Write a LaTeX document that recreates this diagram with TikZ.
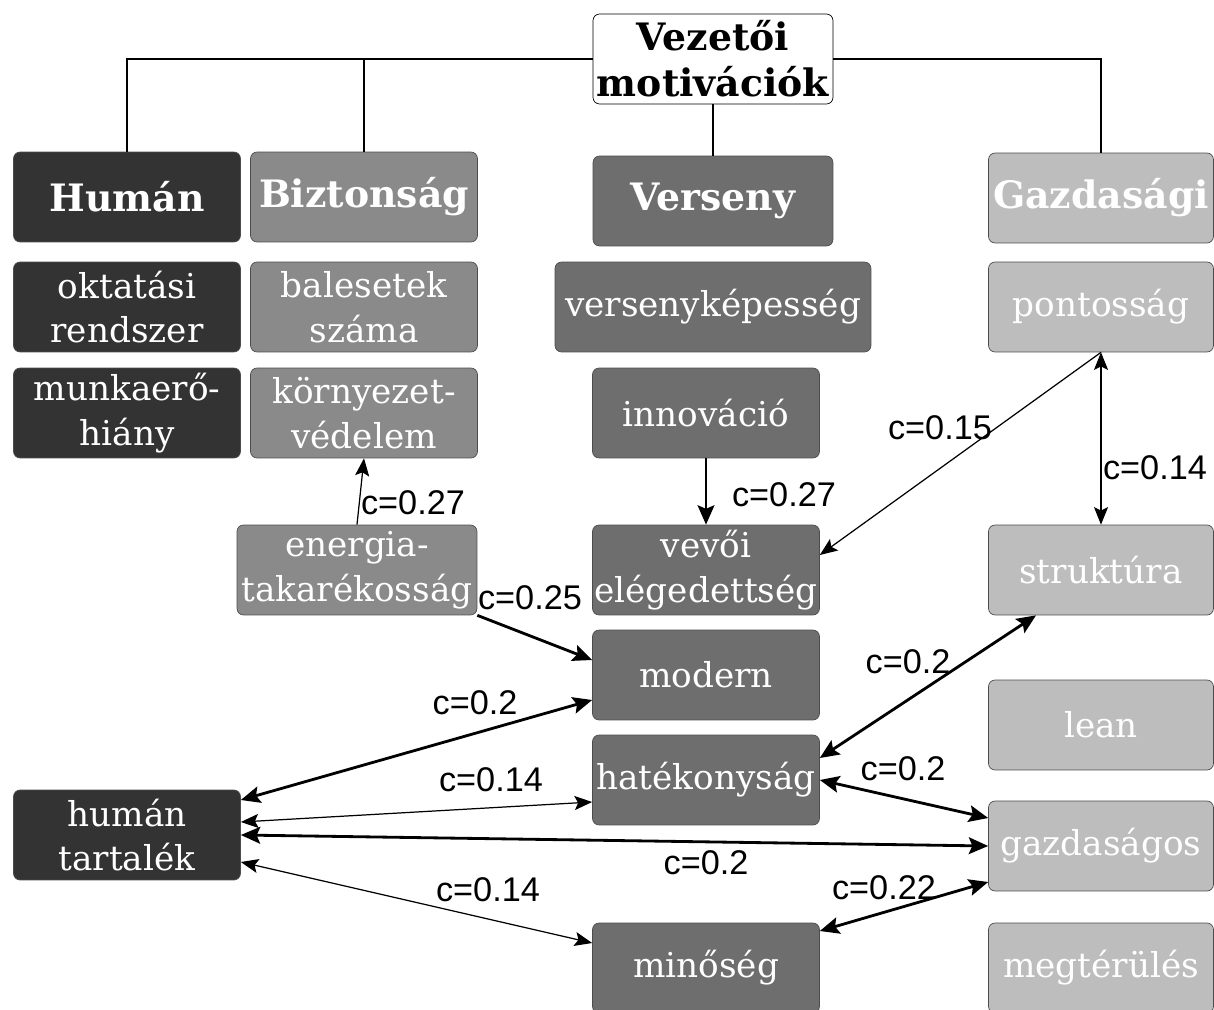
\documentclass[tikz,border=0pt]{standalone}
\usepackage{fontspec}
\setmainfont{DejaVu Serif}
\newfontfamily\lblfont{Liberation Sans}
\usetikzlibrary{arrows.meta}
\definecolor{humgray}{HTML}{333333}
\definecolor{bizgray}{HTML}{8A8A8A}
\definecolor{vergray}{HTML}{6E6E6E}
\definecolor{gazgray}{HTML}{BDBDBD}
\tikzset{
  box/.style={draw=black!70, rounded corners=0.13cm, minimum width=4.54cm, minimum height=1.8cm, align=center, text=white, inner sep=1pt, font=\fontsize{19.5}{25.5}\selectfont},
  headfont/.style={font=\bfseries\fontsize{21.5}{26}\selectfont},
  humbox/.style={box, fill=humgray},
  bizbox/.style={box, fill=bizgray},
  verbox/.style={box, fill=vergray},
  gazbox/.style={box, fill=gazgray},
  lbl/.style={inner sep=0pt, font=\lblfont\fontsize{19.5}{22}\selectfont},
  thinarr/.style={line width=0.7pt, >={Stealth[length=10pt,width=8pt,inset=2pt]}},
  thickarr/.style={line width=1.6pt, >={Stealth[length=11pt,width=9.5pt,inset=2pt]}}
}
\begin{document}
\begin{tikzpicture}[x=0.02cm, y=-0.02cm]
  \useasboundingbox (0,0) rectangle (1214,1010);
  \node[box, fill=white, text=black, draw=black, minimum width=4.8cm, headfont] (root) at (713,59) {Vezetői\\motivációk};
  \node[humbox, headfont] (hum) at (127,197) {Humán};
  \node[bizbox, headfont] (biz) at (364,197) {Biztonság};
  \node[verbox, minimum width=4.8cm, headfont] (ver) at (713,201) {Verseny};
  \node[gazbox, minimum width=4.5cm, headfont] (gaz) at (1101,198) {Gazdasági};
  \node[humbox] (okt) at (127,307) {oktatási\\rendszer};
  \node[humbox] (mun) at (127,413) {munkaerő-\\hiány};
  \node[humbox] (htar) at (127,835) {humán\\tartalék};
  \node[bizbox] (bal) at (364,307) {balesetek\\száma};
  \node[bizbox] (kor) at (364,413) {környezet-\\védelem};
  \node[bizbox, minimum width=4.8cm] (ene) at (357,570) {energia-\\takarékosság};
  \node[verbox, minimum width=6.32cm] (vkep) at (713,307) {versenyképesség};
  \node[verbox] (inn) at (706,413) {innováció};
  \node[verbox] (vev) at (706,570) {vevői\\elégedettség};
  \node[verbox] (mod) at (706,675) {modern};
  \node[verbox] (hat) at (706,780) {hatékonyság};
  \node[verbox] (min) at (706,968) {minőség};
  \node[gazbox, minimum width=4.5cm] (pon) at (1101,307) {pontosság};
  \node[gazbox, minimum width=4.5cm] (str) at (1101,570) {struktúra};
  \node[gazbox, minimum width=4.5cm] (lean) at (1101,725) {lean};
  \node[gazbox, minimum width=4.5cm] (gzd) at (1101,846) {gazdaságos};
  \node[gazbox, minimum width=4.5cm] (meg) at (1101,968) {megtérülés};
  \draw[line width=0.6pt] (root.west) -| (hum.north);
  \draw[line width=0.6pt] (root.west) -| (biz.north);
  \draw[line width=0.6pt] (root.east) -| (gaz.north);
  \draw[line width=0.6pt] (root.south) -- (ver.north);
  \draw[thinarr, ->] (ene.north) -- (kor.south);
  \draw[thickarr, ->] (inn.south) -- (vev.north);
  \draw[thinarr, ->] (pon.south) -- ([yshift=0.3cm]vev.east);
  \draw[thinarr, <->] (pon.south) -- (str.north);
  \draw[thickarr, ->] (ene.south east) -- ([yshift=0.3cm]mod.west);
  \draw[thickarr, <->] ([yshift=0.7cm]htar.east) -- ([yshift=-0.5cm]mod.west);
  \draw[thinarr, <->] ([yshift=0.26cm]htar.east) -- ([yshift=-0.44cm]hat.west);
  \draw[thickarr, <->] (htar.east) -- (gzd.west);
  \draw[thinarr, <->] ([yshift=-0.54cm]htar.east) -- ([yshift=0.5cm]min.west);
  \draw[thickarr, <->] ([xshift=-1.3cm]str.south) -- ([yshift=0.44cm]hat.east);
  \draw[thickarr, <->] (hat.east) -- ([yshift=0.56cm]gzd.west);
  \draw[thickarr, <->] ([yshift=0.74cm]min.east) -- ([yshift=-0.72cm]gzd.west);
  \node[lbl] (c1) at (413,503) {c=0.27};
  \node[lbl] (c2) at (784,495) {c=0.27};
  \node[lbl] (c3) at (940,428) {c=0.15};
  \node[lbl] (c4) at (1155,468) {c=0.14};
  \node[lbl] (c5) at (530,598) {c=0.25};
  \node[lbl] (c6) at (475,703) {c=0.2};
  \node[lbl] (c7) at (491,780) {c=0.14};
  \node[lbl] (c8) at (706,863) {c=0.2};
  \node[lbl] (c9) at (488,890) {c=0.14};
  \node[lbl] (c10) at (908,662) {c=0.2};
  \node[lbl] (c11) at (903,769) {c=0.2};
  \node[lbl] (c12) at (884,888) {c=0.22};
\end{tikzpicture}
\end{document}
